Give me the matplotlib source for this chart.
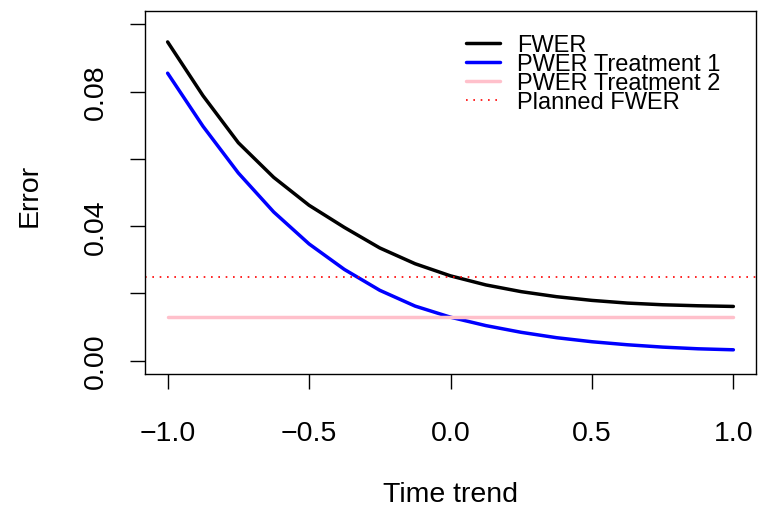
import numpy as np
import matplotlib.pyplot as plt

plt.rcParams['font.family'] = ['Liberation Sans', 'DejaVu Sans']

# values
trend = [-1.0, -0.875, -0.75, -0.625, -0.5, -0.375, -0.25, -0.125, 0.0,
         0.125, 0.25, 0.375, 0.5, 0.625, 0.75, 0.875, 1.0]
fwer = [0.0948, 0.0788, 0.0648, 0.0545, 0.0462, 0.0396, 0.0335, 0.0288, 0.0252,
        0.0225, 0.0205, 0.0190, 0.0179, 0.0171, 0.0166, 0.0163, 0.0161]
pwer1 = [0.0855, 0.0697, 0.0558, 0.0442, 0.0347, 0.0271, 0.0209, 0.0162, 0.0129,
         0.0104, 0.0084, 0.0068, 0.0056, 0.0047, 0.0040, 0.0035, 0.0032]
pwer2 = [0.0129] * len(trend)
planned = 0.025

xticks = [-1.0, -0.5, 0.0, 0.5, 1.0]
yticks = [0.0, 0.02, 0.04, 0.06, 0.08, 0.10]
ylabels = ["0.00", "", "0.04", "", "0.08", ""]

fig = plt.figure(figsize=(7.6, 5.1), dpi=100)
ax = fig.add_axes([145 / 760, 1 - 375 / 510, (756 - 145) / 760, (375 - 12) / 510])

ax.plot(trend, fwer, color="black", lw=2.5, label="FWER", solid_capstyle="round")
ax.plot(trend, pwer1, color="blue", lw=2.5, label="PWER Treatment 1", solid_capstyle="round")
ax.plot(trend, pwer2, color="pink", lw=2.5, label="PWER Treatment 2", solid_capstyle="round")
ax.axhline(planned, color="red", lw=1.2, linestyle=(0, (1, 3.4)), label="Planned FWER")

ax.set_xlim(-1.08, 1.08)
ax.set_ylim(-0.004, 0.104)
ax.set_xticks(xticks)
ax.set_xticklabels([f"{v:.1f}".replace("-", "\u2212") for v in xticks])
ax.set_yticks(yticks)
ax.set_yticklabels(ylabels, rotation=90, va="center")
ax.tick_params(axis="both", length=11, width=1, labelsize=20.5, color="black")
ax.tick_params(axis="x", pad=22)
ax.tick_params(axis="y", pad=15)
for s in ax.spines.values():
    s.set_linewidth(1)

fig.text(0.5925, 1 - 495 / 510, "Time trend", ha="center", va="center", fontsize=20.5)
fig.text(30 / 760, 1 - 195 / 510, "Error", ha="center", va="center", fontsize=20.5, rotation=90)

leg = ax.legend(loc="upper left", bbox_to_anchor=((466 - 145) / 611, 1 - (35 - 12) / 363),
                frameon=False, fontsize=17, labelspacing=-0.12, handlelength=1.44,
                handletextpad=0.72, borderpad=0, borderaxespad=0)

fig.savefig("out.png", dpi=100)
